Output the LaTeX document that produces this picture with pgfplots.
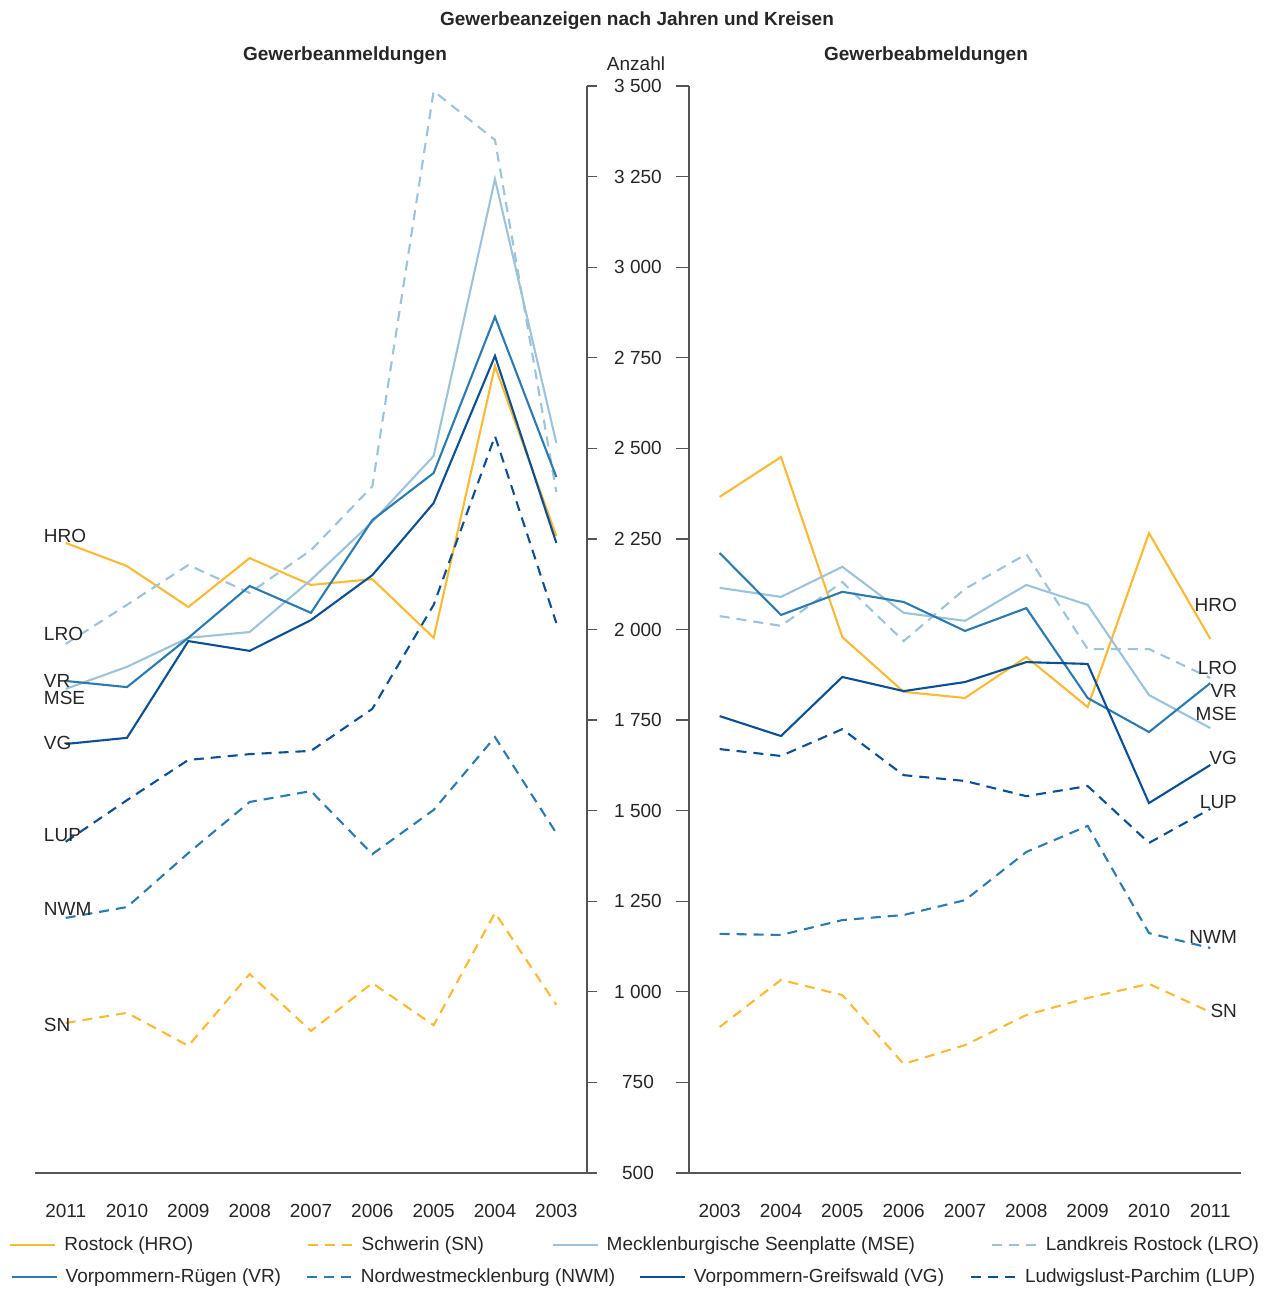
\documentclass[border=0pt]{standalone}
\usepackage{fontspec}
\setmainfont{Liberation Sans}
\usepackage{pgfplots}
\usepackage{pgfplotstable}
\pgfplotsset{compat=1.18}

\definecolor{cYel}{HTML}{FBBA33}
\definecolor{cLight}{HTML}{9DC3DA}
\definecolor{cMid}{HTML}{2B7BB0}
\definecolor{cDark}{HTML}{0B4F94}
\definecolor{cTxt}{HTML}{262626}
\definecolor{cAxis}{HTML}{555555}

% Gewerbeanmeldungen
\pgfplotstableread{
year HRO  SN   MSE  LRO  VR   NWM  VG   LUP
2011 2239 914  1836 1960 1858 1204 1684 1414
2010 2175 942  1897 2068 1841 1234 1701 1529
2009 2062 851  1977 2178 1977 1383 1968 1640
2008 2197 1049 1993 2101 2120 1524 1941 1656
2007 2123 892  2137 2219 2046 1554 2026 1665
2006 2139 1024 2297 2395 2302 1380 2150 1781
2005 1977 908  2479 3486 2432 1502 2349 2068
2004 2727 1218 3243 3351 2863 1703 2755 2534
2003 2258 964  2515 2380 2421 1438 2239 2018
}\anmeldungen

% Gewerbeabmeldungen
\pgfplotstableread{
year HRO  SN   MSE  LRO  VR   NWM  VG   LUP
2003 2366 903  2115 2037 2211 1160 1761 1670
2004 2476 1033 2090 2010 2040 1157 1706 1651
2005 1979 991  2173 2131 2104 1198 1869 1725
2006 1828 801  2046 1968 2076 1212 1830 1598
2007 1811 853  2024 2112 1996 1253 1855 1582
2008 1924 936  2123 2208 2059 1386 1910 1540
2009 1786 983  2068 1946 1811 1458 1905 1568
2010 2266 1022 1819 1946 1717 1162 1521 1411
2011 1974 944  1728 1866 1852 1121 1626 1505
}\abmeldungen

\tikzset{
  dsh/.style={dash pattern=on 5pt off 3.5pt},
  sHRO/.style={color=cYel, line width=1.05pt},
  sSN/.style={color=cYel, line width=1.05pt, dsh},
  sMSE/.style={color=cLight, line width=1.05pt},
  sLRO/.style={color=cLight, line width=1.05pt, dsh},
  sVR/.style={color=cMid, line width=1.05pt},
  sNWM/.style={color=cMid, line width=1.05pt, dsh},
  sVG/.style={color=cDark, line width=1.05pt},
  sLUP/.style={color=cDark, line width=1.05pt, dsh},
}

\pgfplotsset{
  panel/.style={
    scale only axis, width=276pt, height=543.5pt,
    xmin=2002.5, xmax=2011.5, ymin=500, ymax=3500,
    xtick={2003,...,2011}, ytick={500,750,...,3500},
    axis x line*=bottom,
    axis line style={draw=cAxis, line width=0.6pt},
    major x tick style={draw=none},
    major y tick style={draw=cAxis, line width=0.6pt},
    tick align=outside,
    /pgf/number format/assume math mode=true,
    clip=false,
    legend columns=4,
    legend cell align=left,
    legend image code/.code={\draw[##1] (0pt,0pt) -- (22.5pt,0pt);},
    legend style={draw=none, fill=none, inner sep=0pt, column sep=0pt,
      nodes={inner sep=0pt, text=cTxt},
      /tikz/every odd column/.style={column sep=4pt}},
  },
}

\begin{document}
\fontsize{9.5}{11.4}\selectfont
\begin{tikzpicture}
\useasboundingbox (0pt,-59pt) rectangle (637pt,586.5pt);

\begin{axis}[panel,
  at={(17.5pt,0pt)}, anchor=south west,
  x dir=reverse,
  axis y line*=right,
  major tick length=5pt,
  xticklabel style={/pgf/number format/1000 sep={}, text=cTxt, anchor=center, yshift=-14pt},
  yticklabel style={/pgf/number format/1000 sep={\ }, text=cTxt, anchor=center, xshift=20.5pt},
  legend style={at={(-0.0471,-0.0662)}, anchor=west},
]
\addplot[sHRO, forget plot] table[x=year, y=HRO] {\anmeldungen};
\addplot[sSN,  forget plot] table[x=year, y=SN]  {\anmeldungen};
\addplot[sMSE, forget plot] table[x=year, y=MSE] {\anmeldungen};
\addplot[sLRO, forget plot] table[x=year, y=LRO] {\anmeldungen};
\addplot[sVR,  forget plot] table[x=year, y=VR]  {\anmeldungen};
\addplot[sNWM, forget plot] table[x=year, y=NWM] {\anmeldungen};
\addplot[sVG,  forget plot] table[x=year, y=VG]  {\anmeldungen};
\addplot[sLUP, forget plot] table[x=year, y=LUP] {\anmeldungen};

\addlegendimage{sHRO}\addlegendentry{\makebox[121pt][l]{Rostock (HRO)}}
\addlegendimage{sSN}\addlegendentry{\makebox[95pt][l]{Schwerin (SN)}}
\addlegendimage{sMSE}\addlegendentry{\makebox[192pt][l]{Mecklenburgische Seenplatte (MSE)}}
\addlegendimage{sLRO}\addlegendentry{Landkreis Rostock (LRO)}

\begin{scope}[every node/.style={text=cTxt, anchor=west, inner sep=0pt}]
\node at (axis cs:2011.36,2258) {HRO};
\node at (axis cs:2011.36,1988) {LRO};
\node at (axis cs:2011.36,1858) {VR};
\node at (axis cs:2011.36,1811) {MSE};
\node at (axis cs:2011.36,1687) {VG};
\node at (axis cs:2011.36,1433) {LUP};
\node at (axis cs:2011.36,1229) {NWM};
\node at (axis cs:2011.36,908) {SN};
\end{scope}
\end{axis}

\begin{axis}[panel,
  at={(344.5pt,0pt)}, anchor=south west,
  axis y line*=left,
  major tick length=6.5pt,
  yticklabels={},
  xticklabel style={/pgf/number format/1000 sep={}, text=cTxt, anchor=center, yshift=-12.5pt},
  x axis line style={shorten <=-6.5pt},
  legend style={at={(-1.2297,-0.0957)}, anchor=west},
]
\addplot[sHRO, forget plot] table[x=year, y=HRO] {\abmeldungen};
\addplot[sSN,  forget plot] table[x=year, y=SN]  {\abmeldungen};
\addplot[sMSE, forget plot] table[x=year, y=MSE] {\abmeldungen};
\addplot[sLRO, forget plot] table[x=year, y=LRO] {\abmeldungen};
\addplot[sVR,  forget plot] table[x=year, y=VR]  {\abmeldungen};
\addplot[sNWM, forget plot] table[x=year, y=NWM] {\abmeldungen};
\addplot[sVG,  forget plot] table[x=year, y=VG]  {\abmeldungen};
\addplot[sLUP, forget plot] table[x=year, y=LUP] {\abmeldungen};

\addlegendimage{sVR}\addlegendentry{\makebox[120pt][l]{Vorpommern-Rügen (VR)}}
\addlegendimage{sNWM}\addlegendentry{\makebox[139pt][l]{Nordwestmecklenburg (NWM)}}
\addlegendimage{sVG}\addlegendentry{\makebox[138pt][l]{Vorpommern-Greifswald (VG)}}
\addlegendimage{sLUP}\addlegendentry{Ludwigslust-Parchim (LUP)}

\begin{scope}[every node/.style={text=cTxt, anchor=east, inner sep=0pt}]
\node at (axis cs:2011.44,2068) {HRO};
\node at (axis cs:2011.44,1894) {LRO};
\node at (axis cs:2011.44,1830) {VR};
\node at (axis cs:2011.44,1767) {MSE};
\node at (axis cs:2011.44,1645) {VG};
\node at (axis cs:2011.44,1524) {LUP};
\node at (axis cs:2011.44,1151) {NWM};
\node at (axis cs:2011.44,947) {SN};
\end{scope}
\end{axis}

\node[font=\bfseries, text=cTxt] at (318.5pt,576pt) {Gewerbeanzeigen nach Jahren und Kreisen};
\node[font=\bfseries, text=cTxt] at (172.5pt,558.5pt) {Gewerbeanmeldungen};
\node[font=\bfseries, text=cTxt] at (463pt,558.5pt) {Gewerbeabmeldungen};
\node[text=cTxt] at (318pt,554.5pt) {Anzahl};
\end{tikzpicture}
\end{document}
